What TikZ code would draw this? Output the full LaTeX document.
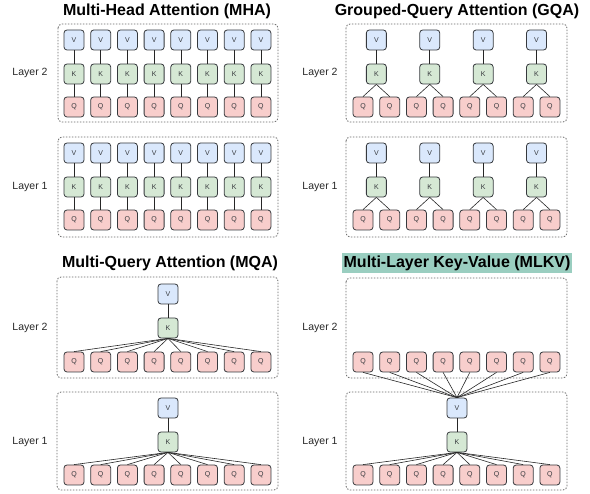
\documentclass[tikz,border=0pt]{standalone}
\usepackage{fontspec}
\setmainfont{Liberation Sans}
\definecolor{vfill}{HTML}{DAE8FC}
\definecolor{kfill}{HTML}{D5E8D4}
\definecolor{qfill}{HTML}{F8CECC}
\definecolor{nodeline}{HTML}{36393D}
\definecolor{hl}{RGB}{154,206,192}
\definecolor{boxline}{HTML}{666666}
\tikzset{
  cell/.style={draw=nodeline, line width=0.8pt, rounded corners=3pt, minimum width=20pt, minimum height=20pt, inner sep=0pt, text=nodeline, font=\fontsize{7}{8}\selectfont},
  vcell/.style={cell, fill=vfill},
  kcell/.style={cell, fill=kfill},
  qcell/.style={cell, fill=qfill},
  layerbox/.style={draw=boxline, line width=0.8pt, dash pattern=on 1.5pt off 1.5pt, rounded corners=4pt},
  link/.style={draw=black!85, line width=0.6pt},
  layerlabel/.style={font=\fontsize{10.5}{12}\selectfont, text=black!85},
  title/.style={font=\fontsize{16}{18}\selectfont\bfseries, inner sep=0pt}
}
\begin{document}
\begin{tikzpicture}[x=1pt,y=-1pt]
\useasboundingbox (0,0) rectangle (590,494);
% ---------- titles ----------
\node[title] (tmha) at (167,11) {Multi-Head Attention (MHA)};
\node[title] (tgqa) at (457,11) {Grouped-Query Attention (GQA)};
\node[title] (tmqa) at (170,263) {Multi-Query Attention (MQA)};
\node[title, fill=hl, minimum width=230pt, minimum height=20pt] (tmlkv) at (457,263) {Multi-Layer Key-Value (MLKV)};
% ---------- layer boxes ----------
\draw[layerbox] (58,24) rectangle (278,122);
\draw[layerbox] (58,137) rectangle (278,237);
\draw[layerbox] (346,24) rectangle (567,122);
\draw[layerbox] (346,137) rectangle (567,237);
\draw[layerbox] (57,277) rectangle (278,378);
\draw[layerbox] (57,392) rectangle (278,490);
\draw[layerbox] (346,278) rectangle (567,378);
\draw[layerbox] (346,392) rectangle (567,490);
% ---------- layer labels ----------
\node[layerlabel] (l2a) at (30,73) {Layer 2};
\node[layerlabel] (l1a) at (30,187) {Layer 1};
\node[layerlabel] (l2b) at (320,73) {Layer 2};
\node[layerlabel] (l1b) at (320,187) {Layer 1};
\node[layerlabel] (l2c) at (30,328) {Layer 2};
\node[layerlabel] (l1c) at (30,442) {Layer 1};
\node[layerlabel] (l2d) at (320,328) {Layer 2};
\node[layerlabel] (l1d) at (320,442) {Layer 1};
% ---------- MHA ----------
\foreach \i in {1,...,8}{
  \pgfmathsetmacro{\xx}{74+26.7*(\i-1)}
  \node[vcell] (mhaAv\i) at (\xx,40) {V};
  \node[kcell] (mhaAk\i) at (\xx,74) {K};
  \node[qcell] (mhaAq\i) at (\xx,107) {Q};
  \node[vcell] (mhaBv\i) at (\xx,153) {V};
  \node[kcell] (mhaBk\i) at (\xx,187) {K};
  \node[qcell] (mhaBq\i) at (\xx,220) {Q};
  \draw[link] (mhaAv\i) -- (mhaAk\i);
  \draw[link] (mhaAk\i) -- (mhaAq\i);
  \draw[link] (mhaBv\i) -- (mhaBk\i);
  \draw[link] (mhaBk\i) -- (mhaBq\i);
}
% ---------- GQA ----------
\foreach \i in {1,...,8}{
  \pgfmathsetmacro{\xx}{363+26.7*(\i-1)}
  \node[qcell] (gqaAq\i) at (\xx,107) {Q};
  \node[qcell] (gqaBq\i) at (\xx,220) {Q};
}
\foreach \g in {1,...,4}{
  \pgfmathsetmacro{\xx}{376.35+53.4*(\g-1)}
  \pgfmathtruncatemacro{\qa}{2*\g-1}
  \pgfmathtruncatemacro{\qb}{2*\g}
  \node[vcell] (gqaAv\g) at (\xx,40) {V};
  \node[kcell] (gqaAk\g) at (\xx,74) {K};
  \node[vcell] (gqaBv\g) at (\xx,153) {V};
  \node[kcell] (gqaBk\g) at (\xx,187) {K};
  \draw[link] (gqaAv\g) -- (gqaAk\g);
  \draw[link] (gqaAk\g.south) -- (gqaAq\qa.north);
  \draw[link] (gqaAk\g.south) -- (gqaAq\qb.north);
  \draw[link] (gqaBv\g) -- (gqaBk\g);
  \draw[link] (gqaBk\g.south) -- (gqaBq\qa.north);
  \draw[link] (gqaBk\g.south) -- (gqaBq\qb.north);
}
% ---------- MQA ----------
\node[vcell] (mqaAv) at (168,294) {V};
\node[kcell] (mqaAk) at (168,328) {K};
\node[vcell] (mqaBv) at (168,408) {V};
\node[kcell] (mqaBk) at (168,442) {K};
\draw[link] (mqaAv) -- (mqaAk);
\draw[link] (mqaBv) -- (mqaBk);
\foreach \i in {1,...,8}{
  \pgfmathsetmacro{\xx}{74+26.7*(\i-1)}
  \node[qcell] (mqaAq\i) at (\xx,362) {Q};
  \node[qcell] (mqaBq\i) at (\xx,475) {Q};
  \draw[link] (mqaAk.south) -- (mqaAq\i.north);
  \draw[link] (mqaBk.south) -- (mqaBq\i.north);
}
% ---------- MLKV ----------
\node[vcell] (mlkvv) at (457,408) {V};
\node[kcell] (mlkvk) at (457,442) {K};
\draw[link] (mlkvv) -- (mlkvk);
\foreach \i in {1,...,8}{
  \pgfmathsetmacro{\xx}{363+26.7*(\i-1)}
  \node[qcell] (mlkvAq\i) at (\xx,362) {Q};
  \node[qcell] (mlkvBq\i) at (\xx,475) {Q};
  \draw[link] (mlkvAq\i.south) -- (mlkvv.north);
  \draw[link] (mlkvk.south) -- (mlkvBq\i.north);
}
\end{tikzpicture}
\end{document}
